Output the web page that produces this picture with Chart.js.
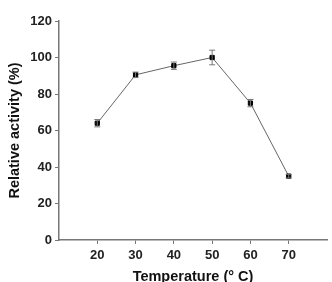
<!DOCTYPE html>
<html>
<head>
<meta charset="utf-8">
<script src="https://cdn.jsdelivr.net/npm/chart.js@4/dist/chart.umd.min.js"></script>
<style>
  body { margin: 0; background: #fff; }
  canvas { display: block; }
</style>
</head>
<body>
<canvas id="myChart" width="332" height="282"></canvas>
<script>
'use strict';

// data
var temps = [20, 30, 40, 50, 60, 70];
var activity = [64, 90.5, 95.5, 100, 75, 35];
var errors = [2, 1.5, 2, 4, 2, 1];
var yTicks = [0, 20, 40, 60, 80, 100, 120];

// error bars drawn with the chart's scales
var errorBars = {
    id: 'errorBars',
    afterDatasetsDraw: function (chart) {
        var ctx = chart.ctx;
        var xs = chart.scales.x, ys = chart.scales.y;
        ctx.save();
        ctx.strokeStyle = '#777';
        ctx.lineWidth = 1;
        for (var i = 0; i < temps.length; i++) {
            var x = xs.getPixelForValue(temps[i]);
            var top = ys.getPixelForValue(activity[i] + errors[i]);
            var bot = ys.getPixelForValue(activity[i] - errors[i]);
            ctx.beginPath();
            ctx.moveTo(x, top); ctx.lineTo(x, bot);
            ctx.moveTo(x - 3, top); ctx.lineTo(x + 3, top);
            ctx.moveTo(x - 3, bot); ctx.lineTo(x + 3, bot);
            ctx.stroke();
        }
        ctx.restore();
    }
};

var tickFont = { family: 'Liberation Sans', size: 13, weight: 'bold' };
var titleFont = { family: 'Liberation Sans', size: 14.5, weight: 'bold' };

var chart = new Chart(document.getElementById('myChart').getContext('2d'), {
    type: 'line',
    data: {
        datasets: [{
            data: temps.map(function (t, i) { return { x: t, y: activity[i] }; }),
            borderColor: '#666',
            borderWidth: 1,
            pointStyle: 'rect',
            pointRadius: 3,
            pointBackgroundColor: '#000',
            pointBorderColor: '#000',
            tension: 0
        }]
    },
    options: {
        responsive: false,
        animation: false,
        layout: { padding: { top: 21, right: 2, left: 6, bottom: 0 } },
        plugins: { legend: { display: false }, tooltip: { enabled: false } },
        scales: {
            x: {
                type: 'linear',
                min: 10,
                max: 80,
                afterBuildTicks: function (axis) {
                    axis.ticks = temps.map(function (t) { return { value: t }; });
                },
                afterFit: function (axis) { axis.height = 42; },
                grid: { drawOnChartArea: false, tickLength: 4, color: '#777' },
                border: { color: '#777', width: 1.5 },
                ticks: { color: '#222', font: tickFont, padding: 4, maxRotation: 0 },
                title: { display: true, text: 'Temperature (° C)', color: '#111', font: titleFont, padding: { top: 6, bottom: -4 } }
            },
            y: {
                min: 0,
                max: 120,
                afterBuildTicks: function (axis) {
                    axis.ticks = yTicks.map(function (v) { return { value: v }; });
                },
                afterFit: function (axis) { axis.width = 53; },
                grid: { drawOnChartArea: false, tickLength: 4, color: '#777' },
                border: { color: '#777', width: 1.5 },
                ticks: { color: '#222', font: tickFont, padding: 3 },
                title: { display: true, text: 'Relative activity (%)', color: '#111', font: titleFont, padding: { top: 0, bottom: 2 } }
            }
        }
    },
    plugins: [errorBars]
});
</script>
</body>
</html>
